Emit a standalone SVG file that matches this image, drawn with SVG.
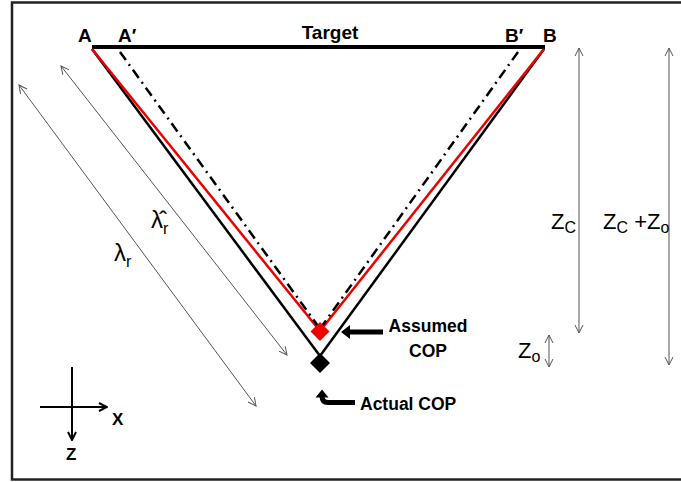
<svg xmlns="http://www.w3.org/2000/svg" width="681" height="482" viewBox="0 0 681 482">
<defs>
<style>
.b{font-family:"Liberation Sans",Arial,sans-serif;font-weight:bold;fill:#000}
.r{font-family:"Liberation Sans",Arial,sans-serif;fill:#000}
.thin{stroke:#555;stroke-width:1;fill:none}
.blk{stroke:#000;stroke-width:2.5;fill:none}
.red{stroke:#e00;stroke-width:2.5;fill:none}
.dd{stroke:#000;stroke-width:2.5;fill:none;stroke-dasharray:10 5 2 5}
</style>
<marker id="oa" viewBox="0 0 10 10" refX="9" refY="5" markerWidth="10" markerHeight="10" markerUnits="userSpaceOnUse" orient="auto-start-reverse">
<path d="M1,1 L9,5 L1,9" fill="none" stroke="#555" stroke-width="1"/>
</marker>
<marker id="ka" viewBox="0 0 10 10" refX="9" refY="5" markerWidth="10" markerHeight="10" markerUnits="userSpaceOnUse" orient="auto">
<path d="M1,1 L9,5 L1,9" fill="none" stroke="#000" stroke-width="2"/>
</marker>
</defs>
<rect x="12" y="2.5" width="690" height="477" fill="#fff" stroke="#222" stroke-width="2.5"/>

<g id="connectors">
<line x1="92" y1="47" x2="545" y2="47" stroke="#000" stroke-width="4"/>
<line class="blk" x1="92" y1="49" x2="320" y2="356"/>
<line class="blk" x1="544" y1="49" x2="320" y2="356"/>
<line class="red" x1="92" y1="49" x2="320" y2="331"/>
<line class="red" x1="544" y1="49" x2="320" y2="331"/>
<line class="dd" x1="120" y1="52" x2="318" y2="326"/>
<line class="dd" x1="518" y1="52" x2="322" y2="326"/>
<line class="thin" x1="19" y1="85" x2="256" y2="406" marker-start="url(#oa)" marker-end="url(#oa)"/>
<line class="thin" x1="61" y1="66" x2="287" y2="355" marker-start="url(#oa)" marker-end="url(#oa)"/>
<line class="thin" x1="579" y1="48" x2="579" y2="333" marker-start="url(#oa)" marker-end="url(#oa)"/>
<line class="thin" x1="669" y1="48" x2="669" y2="365" marker-start="url(#oa)" marker-end="url(#oa)"/>
<line class="thin" x1="549" y1="335" x2="549" y2="367" marker-start="url(#oa)" marker-end="url(#oa)"/>
<path d="M383,332 H348" stroke="#000" stroke-width="5" fill="none"/>
<polygon points="341,332 350,325 350,339" fill="#000"/>
<path d="M355,402.5 H328 Q322,402.5 322,396" stroke="#000" stroke-width="5" fill="none"/>
<polygon points="315.5,397.5 322,389.5 328.5,397.5" fill="#000"/>
<line x1="40" y1="407" x2="107" y2="407" stroke="#000" stroke-width="2" marker-end="url(#ka)"/>
<line x1="72" y1="367" x2="72" y2="440" stroke="#000" stroke-width="2" marker-end="url(#ka)"/>
</g>

<g id="assumed-cop">
<polygon points="320,322 329.5,331.5 320,341 310.5,331.5" fill="#e00"/>
<text class="b" x="428" y="332" font-size="17.5" text-anchor="middle">Assumed</text>
<text class="b" x="428" y="357" font-size="17.5" text-anchor="middle">COP</text>
</g>
<g id="actual-cop">
<polygon points="320,353 330,363 320,373 310,363" fill="#000"/>
<text class="b" x="360" y="410" font-size="17.5">Actual COP</text>
</g>
<g id="target">
<text class="b" x="330" y="39" font-size="19" text-anchor="middle">Target</text>
<text class="b" x="78" y="42" font-size="19">A</text>
<text class="b" x="118" y="42" font-size="19">A′</text>
<text class="b" x="505" y="42" font-size="19">B′</text>
<text class="b" x="543" y="42" font-size="19">B</text>
</g>
<g id="lambda-labels">
<text class="r" x="114" y="261" font-size="24">λ<tspan font-size="16" dy="6">r</tspan></text>
<text class="r" x="151" y="228" font-size="24">λ̂<tspan font-size="16" dy="6">r</tspan></text>
</g>
<g id="z-labels">
<text class="r" x="551" y="229" font-size="22">Z<tspan font-size="16" dy="4">C</tspan></text>
<text class="r" x="603" y="229" font-size="22">Z<tspan font-size="16" dy="4">C</tspan><tspan dy="-4"> +Z</tspan><tspan font-size="16" dy="4">o</tspan></text>
<text class="r" x="518" y="358" font-size="22">Z<tspan font-size="16" dy="4">o</tspan></text>
</g>
<g id="axes">
<text class="b" x="112" y="425" font-size="17">X</text>
<text class="b" x="66" y="460" font-size="17">Z</text>
</g>
</svg>
